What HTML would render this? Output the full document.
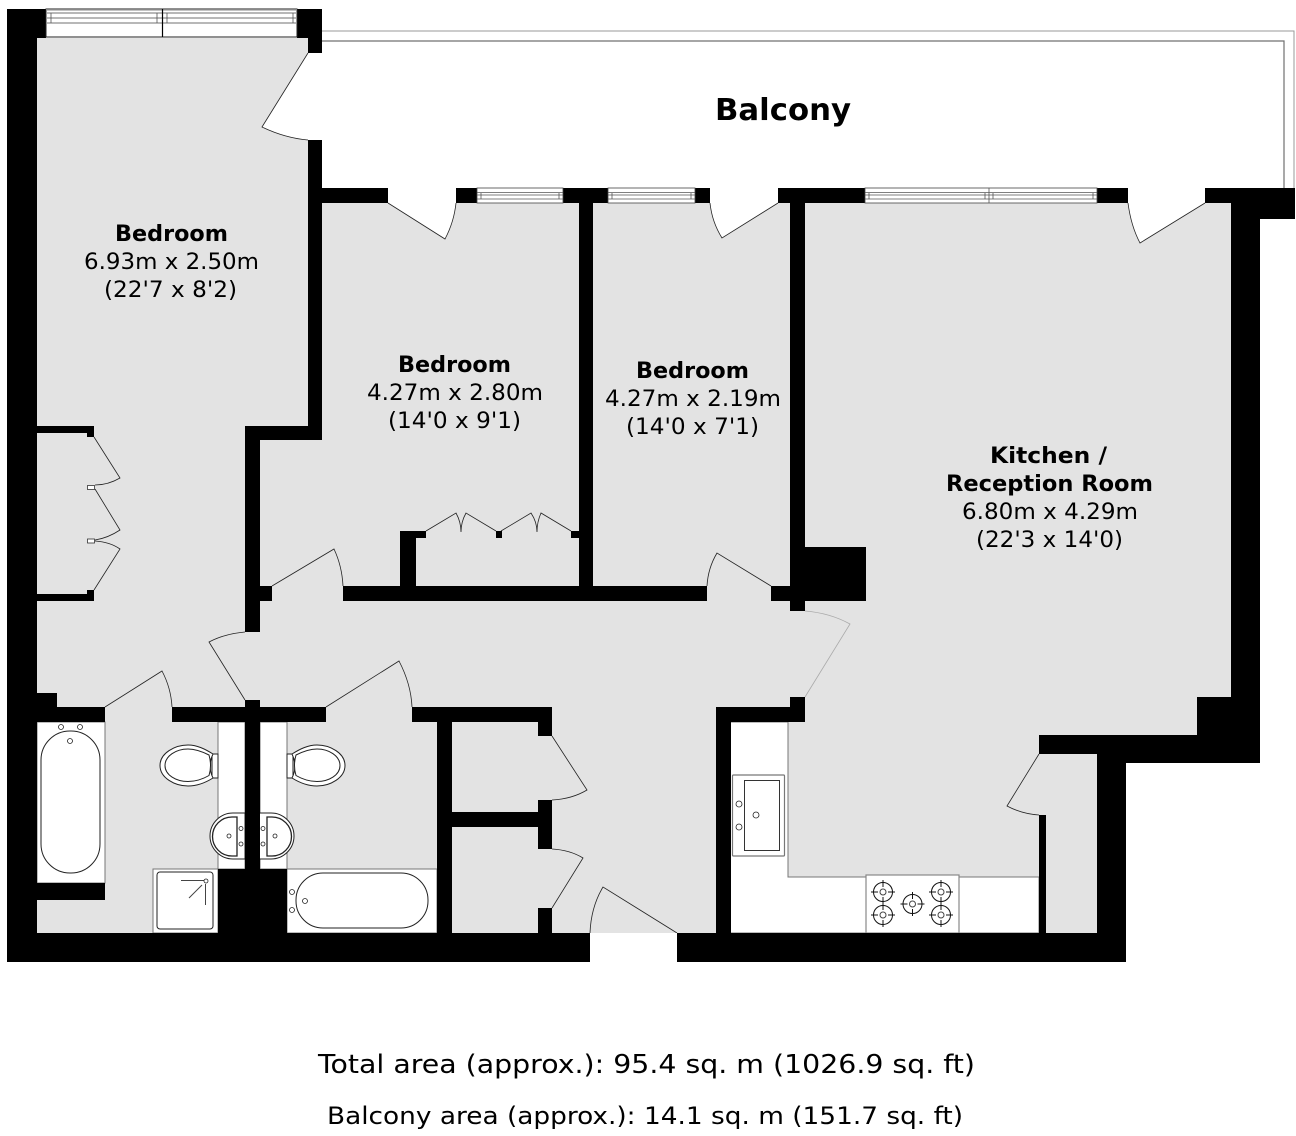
<!DOCTYPE html>
<html><head><meta charset="utf-8"><style>
html,body{margin:0;padding:0;background:#fff}
svg{display:block}
text{font-family:"DejaVu Sans","Liberation Sans",sans-serif;fill:#000}
.b{font-weight:bold;font-size:22px}
.r{font-size:22px}
.d{fill:none;stroke:#222;stroke-width:.8}
.f{fill:#fff;stroke:#222;stroke-width:1}
.g{fill:#fff;stroke:#777;stroke-width:1}
</style></head><body>
<svg width="1296" height="1136" viewBox="0 0 1296 1136" xmlns="http://www.w3.org/2000/svg">
<rect width="1296" height="1136" fill="#fff"/>
<!-- balcony -->
<path d="M322 31H1294V188" fill="none" stroke="#999" stroke-width="1"/>
<path d="M322 41H1284V188" fill="none" stroke="#707070" stroke-width="1.2"/>
<!-- floor -->
<path fill="#e3e3e3" d="M37 38H308V53L262 127Q285 138 308 140V203H388L445 239Q454 222 456 203H710Q712 222 722 238L778 203H1128Q1131 226 1140 243L1205 203H1231V735H1097V933H37Z"/>
<!-- door outlines -->
<g class="d">
<path d="M308 53L262 127Q285 138 308 140"/>
<path d="M388 203L445 239Q454 222 456 203"/>
<path d="M710 203Q712 222 722 238L778 203"/>
<path d="M1128 203Q1131 226 1140 243L1205 203"/>
<path d="M1039 754L1007 806Q1022 814 1039 815"/>
<path d="M707 586Q708 568 717 553L771 586"/>
<path d="M272 586L334 549Q342 566 343 586"/>
<path d="M245 632Q224 634 209 642L245 700"/>
<path d="M105 707L162 671Q171 688 172 707"/>
<path d="M326 707L399 661Q411 684 412 707"/>
<path d="M552 736L587 790Q572 799 552 800"/>
<path d="M552 849Q570 850 583 858L552 908"/>
<path d="M590 933Q591 907 603 887L677 933"/>
<path d="M94 437L120 478Q108 485 95 485"/>
<path d="M95 489L120 530Q108 538 95 540"/>
<path d="M95 541Q110 542 120 549L94 590"/>
<path d="M426 531L456 513Q461 522 461 532Q461 522 466 513L496 531"/>
<path d="M501 531L531 513Q537 522 537 532Q537 522 541 513L571 531"/>
<path d="M805 697L850 624Q830 613 805 611" stroke="#aaa"/>
</g>
<rect x="87.5" y="485.5" width="7" height="4" fill="#fff" stroke="#333" stroke-width=".8"/>
<rect x="87.5" y="539" width="7" height="4" fill="#fff" stroke="#333" stroke-width=".8"/>
<!-- white fixtures areas -->
<rect x="37" y="722" width="68" height="161" fill="#fff" stroke="#777"/>
<rect x="218" y="722" width="27" height="147" fill="#fff" stroke="#777"/>
<rect x="260" y="722" width="27" height="147" fill="#fff" stroke="#777"/>
<rect x="287" y="869" width="150" height="64" fill="#fff" stroke="#777"/>
<rect x="153" y="869" width="65" height="64" fill="#fff" stroke="#777"/>
<path d="M730 722H788V877H1039V933H730Z" fill="#fff" stroke="#777"/>
<rect x="866" y="875" width="93" height="58" fill="#fff" stroke="#888" stroke-width="1.2"/>
<rect x="590" y="933" width="87" height="29" fill="#fff"/>
<!-- basins under wall -->
<g>
<path class="f" d="M245 813H233A23 23 0 0 0 233 859H245Z"/>
<path class="f" style="stroke-width:1.3" d="M237 817H232A19.5 19.5 0 0 0 232 856H237Z"/>
<g class="f" style="stroke-width:.8"><circle cx="241" cy="828.5" r="2"/><circle cx="241" cy="844" r="2"/><circle cx="229" cy="836" r="2"/></g>
</g>
<g transform="translate(504 0) scale(-1 1)">
<path class="f" d="M245 813H233A23 23 0 0 0 233 859H245Z"/>
<path class="f" style="stroke-width:1.3" d="M237 817H232A19.5 19.5 0 0 0 232 856H237Z"/>
<g class="f" style="stroke-width:.8"><circle cx="241" cy="828.5" r="2"/><circle cx="241" cy="844" r="2"/><circle cx="229" cy="836" r="2"/></g>
</g>
<!-- walls -->
<g fill="#000">
<path d="M7 9H46V38H37V693H57V707H105V722H37V883H105V900H37V933H590V962H7Z"/>
<path d="M297 9H322V53H308V38H297Z"/>
<path d="M308 140H322V188H388V203H322V440H260V586H272V601H260V632H245V426H308Z"/>
<rect x="456" y="188" width="21" height="15"/>
<rect x="563" y="188" width="45" height="15"/>
<rect x="579" y="203" width="14" height="383"/>
<rect x="695" y="188" width="15" height="15"/>
<path d="M778 188H865V203H805V547H866V601H805V611H790V601H771V586H790V203H778Z"/>
<rect x="1097" y="188" width="31" height="15"/>
<path d="M1205 188H1295V219H1260V763H1126V962H677V933H1097V754H1039V735H1197V697H1231V203H1205Z"/>
<rect x="343" y="586" width="364" height="15"/>
<path d="M400 531H426V538H416V586H400Z"/>
<rect x="496" y="531" width="6" height="7"/>
<rect x="571" y="531" width="8" height="7"/>
<path d="M37 426H94V437H87V433H37Z"/>
<path d="M37 594H87V590H94V601H37Z"/>
<path d="M172 707H245V700H260V707H326V722H260V869H287V933H218V869H245V722H172Z"/>
<path d="M412 707H552V736H538V722H452V812H538V800H552V849H538V827H452V933H437V722H412Z"/>
<rect x="538" y="908" width="14" height="25"/>
<path d="M716 707H790V697H805V722H731V933H716Z"/>
<rect x="1039" y="815" width="7" height="118"/>
</g>
<!-- top window -->
<g>
<rect x="46" y="9" width="251" height="28" fill="#fff" stroke="#222"/>
<rect x="46" y="9" width="251" height="1.5" fill="#888"/>
<path d="M47 13H296M47 18H296M47 23H296" stroke="#444" stroke-width=".8"/>
<path d="M162.5 9V37" stroke="#000" stroke-width="1.2"/>
<path d="M51 13V23M157 13V23M167 13V23M293 13V23" stroke="#555" stroke-width=".8"/>
</g>
<!-- lower windows -->
<g fill="#fff" stroke="#444" stroke-width=".8">
<rect x="477" y="188" width="86" height="15"/>
<rect x="608" y="188" width="87" height="15"/>
<rect x="865" y="188" width="232" height="15"/>
</g>
<path d="M477 192.5H563M477 195H563M477 199H563M608 192.5H695M608 195H695M608 199H695M865 192.5H1097M865 195H1097M865 199H1097M481 193V199M559 193V199M612 193V199M691 193V199M869 193V199M1093 193V199M985 193V199M993 193V199M989 188V203" stroke="#555" stroke-width=".8" fill="none"/>
<!-- bath 1 -->
<rect x="41" y="731" width="59" height="142" rx="29" class="f"/>
<g class="f" style="stroke-width:.8">
<circle cx="61" cy="727" r="2.5"/><circle cx="80" cy="727" r="2.5"/><circle cx="70" cy="741" r="2.5"/>
</g>
<!-- toilets -->
<g>
<path class="f" d="M212 754H218V778H212Z"/>
<path class="f" d="M213 754C205 749 197 745 188 745C175 745 160 753 160 765.5C160 778 175 786 188 786C197 786 205 783 213 778C209 770 209 762 213 754Z"/>
<path class="f" d="M209 755C203 752 196 749 188 749C176 749 165 756 165 765.5C165 775 176 781.5 188 781.5C196 781.5 203 779 209 775.5C211 769 211 762 209 755Z"/>
</g>
<g transform="translate(505 0) scale(-1 1)">
<path class="f" d="M212 754H218V778H212Z"/>
<path class="f" d="M213 754C205 749 197 745 188 745C175 745 160 753 160 765.5C160 778 175 786 188 786C197 786 205 783 213 778C209 770 209 762 213 754Z"/>
<path class="f" d="M209 755C203 752 196 749 188 749C176 749 165 756 165 765.5C165 775 176 781.5 188 781.5C196 781.5 203 779 209 775.5C211 769 211 762 209 755Z"/>
</g>
<!-- shower -->
<rect x="157" y="872" width="56" height="57" rx="3" class="f"/>
<path d="M181 880.5H204M205.5 884V905M189 898L202 885" stroke="#444" fill="none"/>
<circle cx="206" cy="881" r="2" class="f" style="stroke-width:.8"/>
<!-- bath 2 -->
<rect x="296" y="873" width="132" height="55" rx="27" class="f"/>
<g class="f" style="stroke-width:.8"><circle cx="292" cy="892" r="2.5"/><circle cx="292" cy="910" r="2.5"/><circle cx="305" cy="901" r="2.5"/></g>
<!-- kitchen sink -->
<rect x="732.5" y="775" width="52" height="81" rx="1" fill="#fff" stroke="#777" stroke-width="1.2"/>
<rect x="744.5" y="780.5" width="35" height="70" fill="#fff" stroke="#333"/>
<g class="f" style="stroke-width:.8"><circle cx="739" cy="804" r="3"/><circle cx="739" cy="827" r="3"/><circle cx="756" cy="815" r="3"/></g>
<!-- hob -->
<g fill="none" stroke="#111" stroke-width="1">
<circle cx="883" cy="892" r="9.5"/><circle cx="883" cy="892" r="3" stroke="#444"/><path d="M883 880V887M883 897V904M871 892H878M888 892H895"/>
<circle cx="883" cy="915" r="9.5"/><circle cx="883" cy="915" r="3" stroke="#444"/><path d="M883 903V910M883 920V927M871 915H878M888 915H895"/>
<circle cx="941" cy="892" r="9.5"/><circle cx="941" cy="892" r="3" stroke="#444"/><path d="M941 880V887M941 897V904M929 892H936M946 892H953"/>
<circle cx="941" cy="915" r="9.5"/><circle cx="941" cy="915" r="3" stroke="#444"/><path d="M941 903V910M941 920V927M929 915H936M946 915H953"/>
<circle cx="912.5" cy="904" r="9.5"/><circle cx="912.5" cy="904" r="3" stroke="#444"/><path d="M912.5 892V899M912.5 909V916M900.5 904H907.5M917.5 904H924.5"/>
</g>
<!-- text -->
<text x="715" y="120" font-size="30" font-weight="bold" textLength="136" lengthAdjust="spacingAndGlyphs">Balcony</text>
<text class="b" x="115" y="241" textLength="113" lengthAdjust="spacingAndGlyphs">Bedroom</text>
<text class="r" x="84" y="269" textLength="175" lengthAdjust="spacingAndGlyphs">6.93m x 2.50m</text>
<text class="r" x="104" y="297" textLength="133" lengthAdjust="spacingAndGlyphs">(22'7 x 8'2)</text>
<text class="b" x="398" y="372" textLength="113" lengthAdjust="spacingAndGlyphs">Bedroom</text>
<text class="r" x="367" y="400" textLength="176" lengthAdjust="spacingAndGlyphs">4.27m x 2.80m</text>
<text class="r" x="388" y="428" textLength="133" lengthAdjust="spacingAndGlyphs">(14'0 x 9'1)</text>
<text class="b" x="636" y="378" textLength="113" lengthAdjust="spacingAndGlyphs">Bedroom</text>
<text class="r" x="605" y="406" textLength="176" lengthAdjust="spacingAndGlyphs">4.27m x 2.19m</text>
<text class="r" x="626" y="434" textLength="133" lengthAdjust="spacingAndGlyphs">(14'0 x 7'1)</text>
<text class="b" x="990" y="463" textLength="117" lengthAdjust="spacingAndGlyphs">Kitchen /</text>
<text class="b" x="946" y="491" textLength="207" lengthAdjust="spacingAndGlyphs">Reception Room</text>
<text class="r" x="962" y="519" textLength="176" lengthAdjust="spacingAndGlyphs">6.80m x 4.29m</text>
<text class="r" x="976" y="547" textLength="147" lengthAdjust="spacingAndGlyphs">(22'3 x 14'0)</text>
<text x="318" y="1073" font-size="26" textLength="657" lengthAdjust="spacingAndGlyphs">Total area (approx.): 95.4 sq. m (1026.9 sq. ft)</text>
<text x="327" y="1124" font-size="24" textLength="636" lengthAdjust="spacingAndGlyphs">Balcony area (approx.): 14.1 sq. m (151.7 sq. ft)</text>
</svg>
</body></html>
